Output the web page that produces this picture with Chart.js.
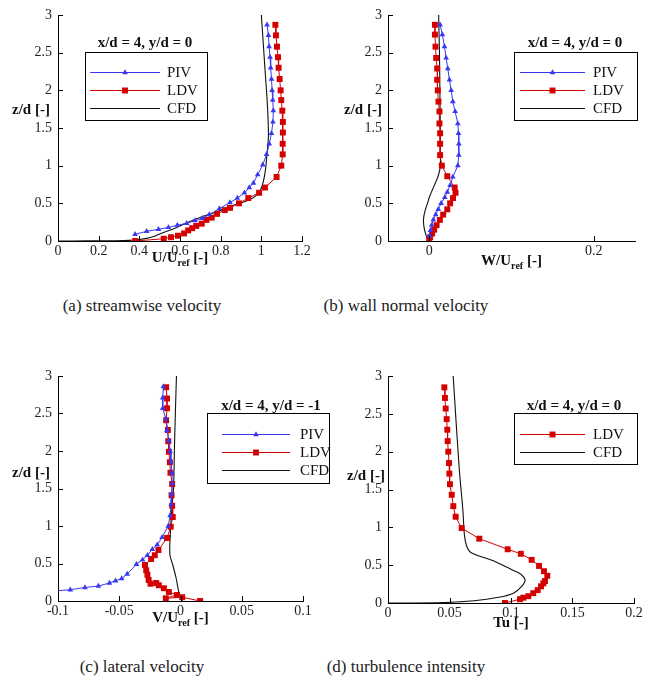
<!DOCTYPE html>
<html>
<head>
<meta charset="utf-8">
<script src="https://cdn.jsdelivr.net/npm/chart.js@4.4.0/dist/chart.umd.min.js"></script>
<style>
  body { margin: 0; background: #fff; width: 655px; height: 681px; position: relative; overflow: hidden; font-family: "Liberation Serif", serif; }
  canvas { position: absolute; }
  .cap { position: absolute; font-size: 17px; line-height: 20px; color: #222; transform: translateX(-50%); white-space: nowrap; }
</style>
</head>
<body>
<canvas id="chartA" width="335" height="270" style="left:0;top:0"></canvas>
<canvas id="chartB" width="325" height="270" style="left:330px;top:0"></canvas>
<canvas id="chartC" width="335" height="270" style="left:0;top:360px"></canvas>
<canvas id="chartD" width="325" height="270" style="left:330px;top:360px"></canvas>
<div class="cap" style="left:142px;top:296px">(a) streamwise velocity</div>
<div class="cap" style="left:406px;top:296px">(b) wall normal velocity</div>
<div class="cap" style="left:142px;top:657px">(c) lateral velocity</div>
<div class="cap" style="left:406px;top:657px">(d) turbulence intensity</div>
<script>
// tick labels
const zTicks = [0, 0.5, 1, 1.5, 2, 2.5, 3];
const uTicks = [0, 0.2, 0.4, 0.6, 0.8, 1, 1.2];
const wTicks = [0, 0.2];
const vTicks = [-0.1, -0.05, 0, 0.05, 0.1];
const tuTicks = [0, 0.05, 0.1, 0.15, 0.2];

// (a) streamwise velocity U/Uref
const uPivZ = [2.87, 2.73, 2.58, 2.44, 2.30, 2.15, 2.0, 1.87, 1.73, 1.58, 1.43, 1.29, 1.15, 1.01, 0.88, 0.77, 0.71, 0.64, 0.57, 0.51, 0.43, 0.35, 0.30, 0.27, 0.235, 0.21, 0.18, 0.155, 0.128, 0.089];
const uPivU = [1.028, 1.035, 1.038, 1.043, 1.046, 1.05, 1.053, 1.056, 1.059, 1.057, 1.05, 1.039, 1.026, 1.007, 0.982, 0.961, 0.941, 0.917, 0.882, 0.846, 0.794, 0.744, 0.71, 0.674, 0.633, 0.587, 0.543, 0.494, 0.436, 0.379];
const uLdvZ = [2.87, 2.73, 2.58, 2.44, 2.30, 2.15, 2.0, 1.87, 1.73, 1.58, 1.44, 1.29, 1.15, 1.0, 0.85, 0.71, 0.64, 0.57, 0.50, 0.44, 0.41, 0.36, 0.31, 0.28, 0.23, 0.20, 0.17, 0.14, 0.10, 0.07, 0.05, 0.03, 0.0];
const uLdvU = [1.069, 1.072, 1.077, 1.082, 1.085, 1.09, 1.095, 1.098, 1.103, 1.106, 1.106, 1.105, 1.105, 1.098, 1.075, 1.018, 0.989, 0.936, 0.89, 0.846, 0.82, 0.782, 0.756, 0.73, 0.707, 0.68, 0.66, 0.64, 0.62, 0.59, 0.556, 0.52, 0.38];
const uCfdZ = [0, 0.001, 0.003, 0.008, 0.02, 0.035, 0.06, 0.093, 0.18, 0.28, 0.36, 0.42, 0.49, 0.54, 0.61, 0.70, 0.9, 1.16, 1.4, 1.8, 2.2, 2.6, 3.0];
const uCfdU = [0, 0.15, 0.28, 0.35, 0.40, 0.436, 0.47, 0.50, 0.584, 0.666, 0.748, 0.814, 0.88, 0.936, 0.977, 1.0, 1.018, 1.028, 1.035, 1.03, 1.02, 1.01, 1.0];

// (b) wall normal velocity W/Uref
const wPivZ = [2.87, 2.74, 2.58, 2.43, 2.29, 2.14, 2.0, 1.85, 1.72, 1.56, 1.43, 1.29, 1.14, 1.0, 0.85, 0.74, 0.65, 0.58, 0.50, 0.42, 0.35, 0.28, 0.21, 0.14, 0.07];
const wPivW = [0.0133, 0.016, 0.0186, 0.0206, 0.0226, 0.0246, 0.0267, 0.0287, 0.0315, 0.0348, 0.0356, 0.036, 0.036, 0.0348, 0.0287, 0.0255, 0.022, 0.019, 0.0145, 0.011, 0.008, 0.005, 0.003, 0.0015, 0.0005];
const wLdvZ = [2.87, 2.74, 2.58, 2.43, 2.29, 2.14, 2.0, 1.85, 1.72, 1.56, 1.43, 1.29, 1.14, 1.0, 0.86, 0.71, 0.64, 0.57, 0.50, 0.42, 0.35, 0.28, 0.21, 0.15, 0.10, 0.05, 0.01];
const wLdvW = [0.007, 0.007, 0.0077, 0.0085, 0.0097, 0.0097, 0.0105, 0.0113, 0.0125, 0.0125, 0.0133, 0.0133, 0.0133, 0.0154, 0.022, 0.031, 0.032, 0.029, 0.0255, 0.022, 0.017, 0.013, 0.009, 0.006, 0.0036, 0.0012, 0.0];
const wCfdZ = [0, 0.03, 0.1, 0.2, 0.3, 0.41, 0.5, 0.59, 0.68, 0.77, 0.85, 0.95, 1.05, 1.5, 2.0, 2.5, 3.0];
const wCfdW = [0, -0.002, -0.0045, -0.0065, -0.0068, -0.0048, -0.002, 0.0005, 0.004, 0.0075, 0.0105, 0.013, 0.0137, 0.0135, 0.013, 0.0125, 0.0115];

// (c) lateral velocity V/Uref
const vPivZ = [2.86, 2.71, 2.57, 2.43, 2.28, 2.14, 2.0, 1.86, 1.71, 1.57, 1.43, 1.29, 1.14, 1.0, 0.85, 0.75, 0.69, 0.61, 0.55, 0.49, 0.36, 0.30, 0.27, 0.24, 0.20, 0.18, 0.15, 0.133];
const vPivV = [-0.014, -0.0145, -0.0145, -0.012, -0.011, -0.0095, -0.0085, -0.0078, -0.007, -0.0068, -0.0072, -0.0076, -0.0085, -0.010, -0.015, -0.019, -0.023, -0.027, -0.031, -0.036, -0.0435, -0.048, -0.053, -0.058, -0.067, -0.078, -0.09, -0.105];
const vLdvZ = [2.85, 2.70, 2.57, 2.41, 2.28, 2.13, 1.99, 1.85, 1.71, 1.56, 1.41, 1.27, 1.12, 0.99, 0.84, 0.68, 0.61, 0.56, 0.48, 0.41, 0.35, 0.28, 0.23, 0.24, 0.21, 0.17, 0.12, 0.08, 0.036, 0.05, 0.0];
const vLdvV = [-0.0117, -0.011, -0.011, -0.0117, -0.0103, -0.010, -0.0095, -0.0087, -0.0082, -0.0068, -0.0073, -0.0068, -0.0063, -0.008, -0.011, -0.018, -0.021, -0.024, -0.029, -0.028, -0.027, -0.026, -0.0245, -0.0198, -0.0177, -0.0136, -0.0095, -0.003, -0.012, 0.0014, 0.016];
const vCfdZ = [0, 0.12, 0.30, 0.48, 0.60, 0.72, 0.88, 1.0, 1.28, 1.52, 2.0, 2.5, 3.0];
const vCfdV = [0.0015, -0.0014, -0.0035, -0.0063, -0.0085, -0.0088, -0.0083, -0.008, -0.0068, -0.0056, -0.005, -0.0042, -0.0033];

// (d) turbulence intensity Tu
const tuLdvZ = [2.85, 2.71, 2.57, 2.43, 2.29, 2.14, 2.0, 1.85, 1.71, 1.57, 1.43, 1.28, 1.14, 0.99, 0.85, 0.71, 0.65, 0.57, 0.49, 0.42, 0.36, 0.29, 0.26, 0.22, 0.17, 0.13, 0.09, 0.07, 0.05, 0.0];
const tuLdvTu = [0.0458, 0.0463, 0.0469, 0.0477, 0.0482, 0.0485, 0.049, 0.0496, 0.0499, 0.0504, 0.0518, 0.0531, 0.055, 0.0599, 0.0742, 0.0973, 0.108, 0.1168, 0.1228, 0.1268, 0.1295, 0.1276, 0.1263, 0.1244, 0.1217, 0.1181, 0.1141, 0.11, 0.1073, 0.0951];
const tuCfdZ = [0, 0.003, 0.03, 0.075, 0.13, 0.22, 0.30, 0.38, 0.44, 0.55, 0.66, 0.75, 0.92, 1.2, 1.82, 3.0];
const tuCfdTu = [0, 0.04, 0.07, 0.09, 0.102, 0.1087, 0.1114, 0.108, 0.1006, 0.087, 0.068, 0.064, 0.062, 0.061, 0.0577, 0.053];

const BLUE = '#3838f2';
const RED = '#d40000';
const tickFont = { family: '"Liberation Serif"', size: 14 };

function pts(zs, xs) {
    return zs.map((z, i) => ({ x: xs[i], y: z }));
}

// "3" instead of "3.0", "0.2" instead of "0.20"
function plainNum(v) {
    return String(Math.round(v * 1000) / 1000);
}

function pivSet(z, v) {
    return { label: 'PIV', data: pts(z, v), showLine: true, borderColor: BLUE, backgroundColor: BLUE,
        borderWidth: 1, pointStyle: 'triangle', pointRadius: 3.3, pointBorderWidth: 0 };
}
function ldvSet(z, v) {
    return { label: 'LDV', data: pts(z, v), showLine: true, borderColor: RED, backgroundColor: RED,
        borderWidth: 1, pointStyle: 'rect', pointRadius: 4.2, pointBorderWidth: 0 };
}
function cfdSet(z, v) {
    return { label: 'CFD', data: pts(z, v), showLine: true, borderColor: '#111', backgroundColor: '#111',
        borderWidth: 1.1, pointRadius: 0, tension: 0.3 };
}

// marker used in the legend boxes
function marker(ctx, style, x, y, r, color) {
    ctx.fillStyle = color;
    ctx.beginPath();
    if (style === 'triangle') {
        ctx.moveTo(x, y - r);
        ctx.lineTo(x + r * 0.866, y + r * 0.5);
        ctx.lineTo(x - r * 0.866, y + r * 0.5);
        ctx.closePath();
    } else {
        const s = Math.SQRT1_2 * r;
        ctx.rect(x - s, y - s, 2 * s, 2 * s);
    }
    ctx.fill();
}

// inward tick marks like the original plots
const tickMarks = {
    id: 'tickMarks',
    afterDraw(chart) {
        const ctx = chart.ctx;
        const { left, bottom } = chart.chartArea;
        const xs = chart.scales.x, ys = chart.scales.y;
        ctx.save();
        ctx.strokeStyle = '#000';
        ctx.lineWidth = 1;
        ctx.beginPath();
        xs.ticks.forEach(t => {
            const px = Math.round(xs.getPixelForValue(t.value)) + 0.5;
            ctx.moveTo(px, bottom);
            ctx.lineTo(px, bottom - 5);
        });
        ys.ticks.forEach(t => {
            const py = Math.round(ys.getPixelForValue(t.value)) + 0.5;
            ctx.moveTo(left, py);
            ctx.lineTo(left + 5, py);
        });
        ctx.stroke();
        ctx.restore();
    }
};

// axis titles, with subscript on the x title
const axisTitles = {
    id: 'axisTitles',
    afterDraw(chart, args, o) {
        const ctx = chart.ctx;
        const a = chart.chartArea;
        ctx.save();
        ctx.fillStyle = '#111';
        ctx.textBaseline = 'middle';
        ctx.textAlign = 'center';
        ctx.font = 'bold 15px "Liberation Serif"';
        ctx.fillText('z/d [-]', o.yX, o.yY);

        const big = 'bold 15px "Liberation Serif"', small = 'bold 10px "Liberation Serif"';
        ctx.textAlign = 'left';
        ctx.font = big; const w1 = ctx.measureText(o.x[0]).width;
        ctx.font = small; const w2 = ctx.measureText(o.x[1]).width;
        ctx.font = big; const w3 = ctx.measureText(o.x[2]).width;
        let x = (a.left + a.right) / 2 - (w1 + w2 + w3) / 2;
        ctx.fillText(o.x[0], x, o.xY);
        ctx.font = small;
        ctx.fillText(o.x[1], x + w1, o.xY + 5);
        ctx.font = big;
        ctx.fillText(o.x[2], x + w1 + w2, o.xY);
        ctx.restore();
    }
};

// legend box with a bold title above it
const boxLegend = {
    id: 'boxLegend',
    afterDraw(chart, args, o) {
        const ctx = chart.ctx;
        ctx.save();
        ctx.fillStyle = '#111';
        ctx.textAlign = 'center';
        ctx.textBaseline = 'middle';
        ctx.font = 'bold 15px "Liberation Serif"';
        ctx.fillText(o.title, o.titleX, o.titleY);
        ctx.strokeStyle = '#000';
        ctx.lineWidth = 1;
        ctx.strokeRect(o.box[0] + 0.5, o.box[1] + 0.5, o.box[2] - o.box[0], o.box[3] - o.box[1]);
        ctx.font = '15px "Liberation Serif"';
        ctx.textAlign = 'left';
        chart.data.datasets.forEach((ds, i) => {
            const y = o.rows[i] + 0.5;
            ctx.strokeStyle = ds.borderColor;
            ctx.lineWidth = 1;
            ctx.beginPath();
            ctx.moveTo(o.line[0], y);
            ctx.lineTo(o.line[1], y);
            ctx.stroke();
            if (ds.pointRadius > 0) {
                marker(ctx, ds.pointStyle, (o.line[0] + o.line[1]) / 2, y, ds.pointRadius, ds.backgroundColor);
            }
            ctx.fillStyle = '#111';
            ctx.fillText(ds.label, o.labelX, y + 1);
        });
        ctx.restore();
    }
};

function makeChart(id, datasets, xr, pad, xh, legend, titles) {
    return new Chart(document.getElementById(id), {
        type: 'scatter',
        data: { datasets: datasets },
        options: {
            responsive: false,
            animation: false,
            events: [],
            layout: { padding: pad },
            scales: {
                x: {
                    type: 'linear', min: xr.min, max: xr.max,
                    afterBuildTicks: s => { s.ticks = xr.ticks.map(v => ({ value: v })); },
                    afterFit: s => { s.height = xh; },
                    grid: { display: false, drawTicks: false, tickLength: 0 },
                    border: { display: true, color: '#000', width: 1 },
                    ticks: { font: tickFont, color: '#222', padding: 2, maxRotation: 0, autoSkip: false, callback: plainNum }
                },
                y: {
                    type: 'linear', min: 0, max: 3,
                    afterBuildTicks: s => { s.ticks = zTicks.map(v => ({ value: v })); },
                    afterFit: s => { s.width = 58; },
                    grid: { display: false, drawTicks: false, tickLength: 0 },
                    border: { display: true, color: '#000', width: 1 },
                    ticks: { font: tickFont, color: '#222', padding: 6, autoSkip: false, callback: plainNum }
                }
            },
            plugins: {
                legend: { display: false },
                tooltip: { enabled: false },
                boxLegend: legend,
                axisTitles: titles
            }
        },
        plugins: [tickMarks, axisTitles, boxLegend]
    });
}

makeChart('chartA',
    [pivSet(uPivZ, uPivU), ldvSet(uLdvZ, uLdvU), cfdSet(uCfdZ, uCfdU)],
    { min: 0, max: 1.2, ticks: uTicks },
    { top: 15, right: 33, bottom: 0, left: 0 }, 29,
    { title: 'x/d = 4, y/d = 0', titleX: 145, titleY: 43, box: [85, 52, 207, 120], line: [90, 160], labelX: 167, rows: [72, 90, 108] },
    { yX: 31, yY: 110, x: ['U/U', 'ref', ' [-]'], xY: 258 });

makeChart('chartB',
    [pivSet(wPivZ, wPivW), ldvSet(wLdvZ, wLdvW), cfdSet(wCfdZ, wCfdW)],
    { min: -0.05, max: 0.25, ticks: wTicks },
    { top: 15, right: 20, bottom: 0, left: 0 }, 29,
    { title: 'x/d = 4, y/d = 0', titleX: 245, titleY: 43, box: [184, 52, 307, 120], line: [190, 255], labelX: 263, rows: [72, 90, 108] },
    { yX: 33, yY: 110, x: ['W/U', 'ref', ' [-]'], xY: 261 });

makeChart('chartC',
    [pivSet(vPivZ, vPivV), ldvSet(vLdvZ, vLdvV), cfdSet(vCfdZ, vCfdV)],
    { min: -0.1, max: 0.1, ticks: vTicks },
    { top: 16, right: 32, bottom: 0, left: 0 }, 29,
    { title: 'x/d = 4, y/d = -1', titleX: 271, titleY: 46, box: [207, 53, 329, 123], line: [222, 290], labelX: 300, rows: [74, 92, 110] },
    { yX: 31, yY: 113, x: ['V/U', 'ref', ' [-]'], xY: 258 });

makeChart('chartD',
    [ldvSet(tuLdvZ, tuLdvTu), cfdSet(tuCfdZ, tuCfdTu)],
    { min: 0, max: 0.2, ticks: tuTicks },
    { top: 16, right: 21, bottom: 0, left: 0 }, 27,
    { title: 'x/d = 4, y/d = 0', titleX: 244, titleY: 46, box: [184, 53, 307, 104], line: [190, 255], labelX: 263, rows: [74, 92] },
    { yX: 36, yY: 116, x: ['Tu', '', ' [-]'], xY: 263 });
</script>
</body>
</html>
